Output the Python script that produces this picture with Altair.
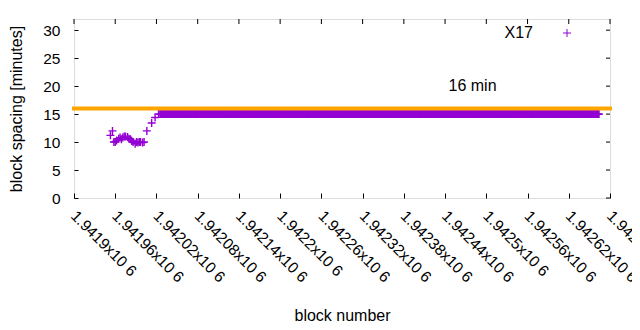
import altair as alt
import pandas as pd

# ---- data ----
early_blocks = [1941953, 1941956, 1941958, 1941960, 1941962, 1941965, 1941967,
                1941969, 1941971, 1941973, 1941975, 1941978, 1941980, 1941982,
                1941984, 1941986, 1941989, 1941991, 1941993, 1941995, 1941997,
                1942000, 1942002, 1942006, 1942013, 1942018, 1942023]
early_values = [11.2, 12.0, 10.0, 10.0, 10.3, 10.6, 10.8,
                10.5, 10.8, 11.0, 11.0, 10.9, 10.6, 10.5,
                10.2, 10.0, 9.7, 10.0, 9.9, 10.0, 10.0,
                9.9, 10.0, 12.0, 13.4, 14.4, 15.0]
flat_blocks = list(range(1942025, 1942665))
flat_value = 15.0

x_ticks = [1941900, 1941960, 1942020, 1942080, 1942140, 1942200, 1942260,
           1942320, 1942380, 1942440, 1942500, 1942560, 1942620, 1942680]
y_ticks = [0, 5, 10, 15, 20, 25, 30]
x_domain = [1941900, 1942680]
y_domain = [0, 32]

target_value = 16
target_label = "16 min"
series_name = "X17"

df = pd.DataFrame({
    "block": early_blocks + flat_blocks,
    "spacing": early_values + [flat_value] * len(flat_blocks),
})
rule_df = pd.DataFrame({"spacing": [target_value]})
label_df = pd.DataFrame({"block": [1942445], "spacing": [19.1], "text": [target_label]})
legend_df = pd.DataFrame({"text": [series_name]})
xtick_df = pd.DataFrame({"block": x_ticks})
ytick_df = pd.DataFrame({"spacing": y_ticks})

PURPLE = "#9400d3"
ORANGE = "#ffa500"
FONT = "Liberation Sans"
PLUS = "M-1,0L1,0M0,-1L0,1"
W, H = 536, 179

xscale = alt.Scale(domain=x_domain, nice=False, zero=False)
yscale = alt.Scale(domain=y_domain, nice=False, zero=False)

x_axis = alt.Axis(
    values=x_ticks, orient="bottom", offset=-5, tickSize=5, domain=False, grid=False,
    labelAngle=45, labelAlign="left", labelBaseline="top", labelPadding=10, labelOffset=4,
    labelExpr="format(datum.value/1000000, '.6~g') + 'x10 6'",
    labelOverlap=False, labelBound=False, labelFlush=False,
    title="block number", titleY=127, titleBaseline="alphabetic",
    tickColor="black", labelColor="black", titleColor="black",
    labelFont=FONT, titleFont=FONT, labelFontSize=15.5, titleFontSize=16,
    titleFontWeight="normal",
)
y_axis = alt.Axis(
    values=y_ticks, orient="left", offset=-4, tickSize=4, domain=False, grid=False,
    labelPadding=14, labelOverlap=False, labelFlush=False, labelBound=False,
    title="block spacing [minutes]", titlePadding=18,
    tickColor="black", labelColor="black", titleColor="black",
    labelFont=FONT, titleFont=FONT, labelFontSize=15.5, titleFontSize=16,
    titleFontWeight="normal",
)

X = lambda: alt.X("block:Q", scale=xscale, axis=x_axis)
Y = lambda: alt.Y("spacing:Q", scale=yscale, axis=y_axis)

points = alt.Chart(df).mark_point(
    shape=PLUS, size=64, filled=False, stroke=PURPLE, strokeWidth=1.4, opacity=1
).encode(x=X(), y=Y())

top_ticks = alt.Chart(xtick_df).mark_rule(color="black", strokeWidth=1).encode(
    x=X(), y=alt.value(0), y2=alt.value(5)
)
right_ticks = alt.Chart(ytick_df).mark_rule(color="black", strokeWidth=1).encode(
    y=Y(), x=alt.value(W - 4), x2=alt.value(W)
)

rule = alt.Chart(rule_df).mark_rule(color=ORANGE, strokeWidth=4, strokeCap="square").encode(
    y=Y()
)

label = alt.Chart(label_df).mark_text(
    align="left", baseline="alphabetic", font=FONT, fontSize=16, color="black"
).encode(x=X(), y=Y(), text="text:N")

legend_text = alt.Chart(legend_df).mark_text(
    align="right", baseline="alphabetic", font=FONT, fontSize=16, color="black"
).encode(x=alt.value(459), y=alt.value(19), text="text:N")

legend_sym = alt.Chart(legend_df).mark_point(
    shape=PLUS, size=64, filled=False, stroke=PURPLE, strokeWidth=1, opacity=1
).encode(x=alt.value(493), y=alt.value(14))

chart = alt.layer(points, top_ticks, right_ticks, rule, label, legend_text, legend_sym).properties(
    width=W, height=H,
    autosize=alt.AutoSizeParams(type="none"),
    padding={"left": 66, "top": 11, "right": 22, "bottom": 124},
).configure_view(
    stroke="black", strokeWidth=1, fill="white"
).configure(background="white")

chart.save("out.html", embed_options={"renderer": "svg", "actions": False})
